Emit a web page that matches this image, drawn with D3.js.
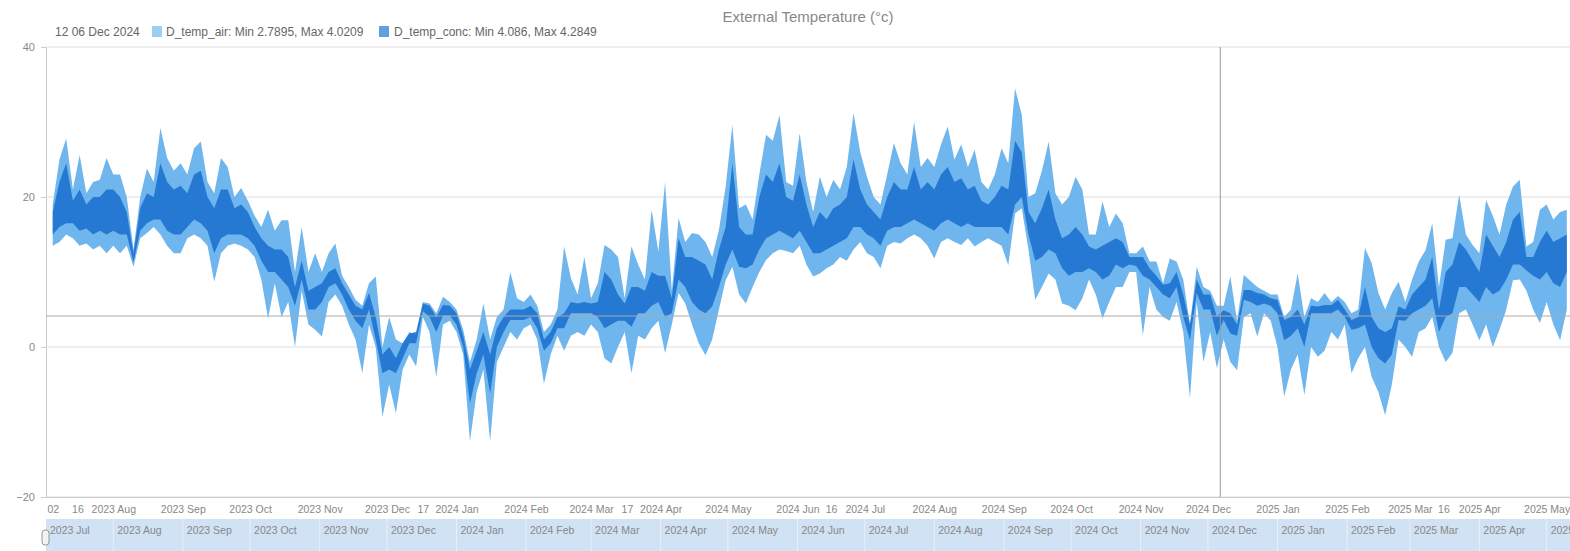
<!DOCTYPE html>
<html><head><meta charset="utf-8">
<script src="https://cdn.jsdelivr.net/npm/d3@7"></script>
<style>
body{margin:0;background:#fff;overflow:hidden}
svg{display:block}
text{font-family:"Liberation Sans",Arial,sans-serif}
</style>
</head><body>
<svg id="chart" width="1570" height="551"></svg>
<script>
// ---- data ----
const sampleStart = "2023-07-05";
const sampleStepDays = 3;

const airLo = [13.5,14,15,14.5,13.5,13.8,13,13.5,12.5,13.5,
12.5,13.5,10.7,14.5,15.2,16,15,13.5,12.5,12.5,
14.5,15,14.5,13.5,8.7,12.5,13.5,13.8,13.5,13,
12,9,3.8,8.5,4,6,0,7.5,3,2.3,
1.4,6,7,5.5,3,1,-3.5,3,0,-9.3,
-5,-8.8,-3,-1,-2.6,4,2,-4,3,3.5,
2,-1,-12.6,-6,-3,-12.6,-2,0,2,1,
2.5,3,1,-4.9,-1,1.5,-0.5,1.5,2,1.5,
3,2,-1.5,-2.2,0,2,-3.5,1.5,1,2.5,
3.5,-0.8,3,7.2,5.8,3,0.5,-1.1,1,5,
8.9,10.7,7,5.8,8,10,11.6,12.5,13,12.8,
12.5,13.5,11,9.4,9.8,10.5,11,12,11.5,13,
14,12.5,12,10.5,13.5,14,13.8,14.5,15,14.5,
13.5,11.8,14,14.5,14,13.6,14.5,13.4,14,14.5,
14,13.5,10.9,17.8,18.5,13,6.3,8,9.8,9,
5.8,5.5,4.9,6.5,9,7,3.8,6,8,8,
10,10,1.6,8,5,4,3.5,6,2,-6.8,
6,-2,2,-2.8,1,-2,-3.1,4,4.5,1.4,
4.5,3.5,0,-6.6,-3,-1,-6.4,0,-1.3,-0.5,
2,1,3,-3.5,-1.5,0,-4,-6,-9.1,-5,
1,0,-1.3,2,2.5,4,0,-2,-0.8,4.5,
5,3,0.9,3,0,2.3,5,8.9,9,7.5,
5,3.2,6,3,0.9,5];

const airHi = [19,25,27.8,21,25.6,20.5,22,22.3,25.2,23,
23,20,13,20,23.8,22,29.2,25.2,23.5,24.5,
23,26.5,27.4,22,20.5,25.2,24,20,21.2,19.5,
17.5,16,18.3,15.5,16.9,16.9,10,16,10,12.5,
10,12.5,13.8,9.5,8,6.3,5.5,8.5,9.4,0,
4,1,0.5,2,1.5,6,5.8,4.5,6.7,6,
5,2.3,-2,1,5.8,1,4,5,10,6.5,
6,7,5.5,2,3,5,13.4,9.2,7,12,
6.5,8.5,13.6,13,12,6.5,13.4,11,9,18.3,
12.7,22,7.5,17.2,14,15.2,15,14,12,15.6,
21.4,29.6,18.5,19,17,23,28.3,27.5,30.9,22,
21.5,28.5,22,18,22.7,20,22.3,21,24,31.2,
26,22.7,20,19,23,27.2,24.5,23,30,24,
25.2,24,27,29.4,25,27,24,26.3,22,21,
23,26.5,24.5,34.5,31,20,20.5,23.5,27.4,20.5,
19,20,22.7,21,15,15,19.4,16,17.8,16.5,
12.5,12.5,13.4,11.4,11.4,8.5,11.8,11.4,9,3,
10.7,8,7.5,5.5,5.5,9.4,3.5,9.6,8.8,8,
7.5,7,7,4,5,9.8,4,6.5,6,7.2,
6,6.8,6,4.5,5,13.2,11.2,7.2,5,7.2,
8.7,6,9,11.4,12.9,16.5,8,14.3,14.5,20.3,
15,13.6,12.5,19.6,17.5,15,19,21.4,22.3,13.4,
14,18.3,19,17,18,18.3];

const concLo = [15,16,16.5,16.5,15.5,15.8,15,15.5,15,15.5,
15,15,11.3,15.5,16.5,17,17,15.5,15,15,
16,17,16.5,15.5,12.5,14.5,15,15,15,14.5,
13.5,11.5,10,10,9,8,5.5,9,5,5,
6,8,8.5,7,5,3.5,2.5,5,1,-3.5,
-3,-3.5,-1.5,0.5,0.5,4.8,4,2,4.2,4.2,
3,0,-7.5,-3.5,-1,-6.2,0,2,3.6,3.6,
3.6,4,2.5,-0.5,0.5,2.5,2.5,4.5,4.5,4.5,
4.5,4,2.5,3,3.5,3.5,2.7,4.5,4.5,5.5,
6,4,4.5,9,8,6,5,4.5,5.4,8,
11,13,10.7,10.5,11,13,14.5,15,15.5,15,
14.5,15.5,14,12.5,12.5,13,13.5,14,14.5,16,
16,15,14.5,13.5,15.5,16,16,16.5,17,16.5,
16,15.5,16.5,17,16.5,16,16.5,16,16,16,
16,16,15,19,20,15,11.5,12,13,12.5,
10.5,9.5,10,10,10.5,10,9,9.5,11,10.5,
11,10.8,9.5,9,8,7,6.5,8,4,0.9,
7.2,5,5,1.5,3.6,1.8,1.5,6.3,6,5.5,
5.8,5.5,4.5,0.9,1.5,2.5,0,4.5,4.5,4.5,
4.5,5,4,2.3,2.5,3,0,-1.5,-2.2,-1,
3.6,3.5,4.5,5,5.5,6.5,2,4,4.5,8,
8,7,6,8,7,7.5,9,11,11,10.2,
9.5,9,10,8.5,8,10];

const concHi = [18,22,24.5,19.5,21,19,20,20,21,21,
20,18,12.5,18.5,20.5,20,24.5,22,21,21.5,
20.5,23,23.5,20,18.5,21,21,18.5,19,18,
16,14.5,13.5,13,13,12,8,11.5,7.5,8,
8.5,10,10.5,8.5,7,5.5,5,7.2,4,-1,
0,-1.5,0.5,1.8,2,5.8,5.5,4,5.6,5.5,
4.5,1.5,-3,-0.5,2,-1,2.5,4,5,5,
5,5.5,4.5,1,2,4,4.5,6,5.8,6,
5.8,6,10,9,7,5.8,8,8,7.5,10,
9.5,9.5,6.5,14.5,12,12,11.5,11,9,13,
16,24.5,16,15,15,20,23,22,24.5,20,
19.5,23,19,16,18,17,18.5,19,20,25,
21,19,18,17,20,22,21,21,24,21,
22,21,23,24,22,22.5,21,21.5,19.5,19,
20,21.5,21,27.5,26,18,16.5,18.5,21,17,
14.5,15,16,15,13.4,13,13.5,14,14.5,14,
12,12,12,10.5,9.5,8.3,8.5,10,7,3,
9,7,7,4,4.9,4.5,3,7.6,7.6,7.2,
7,6.5,6.3,3.6,4,5,3,5.5,5.4,5.6,
5.6,6.3,5,3.6,4,8,4,2.5,2,2.5,
5.4,5,7,8,9,12,5,10,11,14,
13,11.5,10,15,13.5,12,14,17,18,12,
12,14,15.5,14,14.5,15];

const xTickDates = ["2023-07-02","2023-07-16","2023-08-01","2023-09-01","2023-10-01","2023-11-01",
  "2023-12-01","2023-12-17","2024-01-01","2024-02-01","2024-03-01","2024-03-17","2024-04-01",
  "2024-05-01","2024-06-01","2024-06-16","2024-07-01","2024-08-01","2024-09-01","2024-10-01",
  "2024-11-01","2024-12-01","2025-01-01","2025-02-01","2025-03-01","2025-03-16","2025-04-01","2025-05-01"];
const xTickLabels = ["02","16","2023 Aug","2023 Sep","2023 Oct","2023 Nov",
  "2023 Dec","17","2024 Jan","2024 Feb","2024 Mar","17","2024 Apr",
  "2024 May","2024 Jun","16","2024 Jul","2024 Aug","2024 Sep","2024 Oct",
  "2024 Nov","2024 Dec","2025 Jan","2025 Feb","2025 Mar","16","2025 Apr","2025 May"];
const yTicks = [-20, 0, 20, 40];

const titleText = "External Temperature (°c)";
const cursorLabel = "12 06 Dec 2024";
const legendAir = "D_temp_air: Min 2.7895, Max 4.0209";
const legendConc = "D_temp_conc: Min 4.086, Max 4.2849";
const cursorDate = "2024-12-06T12:00";
const cursorValue = 4.13;

const domainStart = "2023-07-02T00:00";
const domainEnd = "2025-05-11T10:00";

// ---- drawing ----
const m = {left: 46, right: 1570, top: 47, bottom: 497};
const parseDay = d3.timeParse("%Y-%m-%d");
const parseT = d3.timeParse("%Y-%m-%dT%H:%M");
const start = parseDay(sampleStart);
const dates = airLo.map((_, i) => d3.timeDay.offset(start, i * sampleStepDays));

const x = d3.scaleTime().domain([parseT(domainStart), parseT(domainEnd)]).range([m.left, m.right]);
const y = d3.scaleLinear().domain([-20, 40]).range([m.bottom, m.top]);

const svg = d3.select("#chart");
svg.append("defs").append("clipPath").attr("id", "plotclip")
  .append("rect").attr("x", m.left).attr("y", m.top).attr("width", m.right - m.left).attr("height", m.bottom - m.top);

// title
svg.append("text").attr("x", (m.left + m.right) / 2).attr("y", 22).attr("text-anchor", "middle")
  .attr("font-size", 15).attr("fill", "#888").text(titleText);

// legend
const lg = svg.append("g").attr("font-size", 12).attr("fill", "#666");
lg.append("text").attr("x", 55).attr("y", 36).text(cursorLabel);
lg.append("rect").attr("x", 152).attr("y", 26).attr("width", 10).attr("height", 11).attr("fill", "#9dcff4");
lg.append("text").attr("x", 166).attr("y", 36).text(legendAir);
lg.append("rect").attr("x", 379).attr("y", 26).attr("width", 10).attr("height", 11).attr("fill", "#5e9fe0");
lg.append("text").attr("x", 394).attr("y", 36).text(legendConc);

// grid + y axis
const yAxis = d3.axisLeft(y).tickValues(yTicks).tickSize(5).tickPadding(6).tickFormat(d3.format("d"));
const gy = svg.append("g").attr("transform", `translate(${m.left},0)`).call(yAxis);
gy.select(".domain").attr("stroke", "#ccc");
gy.selectAll(".tick line").attr("stroke", "#ccc");
gy.selectAll(".tick text").attr("fill", "#888").attr("font-size", 11).attr("font-family", "Liberation Sans, Arial, sans-serif");

svg.append("g").selectAll("line").data(yTicks).join("line")
  .attr("x1", m.left).attr("x2", m.right).attr("y1", d => y(d)).attr("y2", d => y(d))
  .attr("stroke", "#ddd").attr("stroke-width", 1);

// x axis
const xAxis = d3.axisBottom(x).tickValues(xTickDates.map(parseDay)).tickSize(0).tickPadding(9)
  .tickFormat((d, i) => xTickLabels[i]);
const gx = svg.append("g").attr("transform", `translate(0,${m.bottom})`).call(xAxis);
gx.select(".domain").attr("stroke", "#ccc");
gx.selectAll(".tick text").attr("fill", "#888").attr("font-size", 10.5).attr("font-family", "Liberation Sans, Arial, sans-serif");
gx.selectAll(".tick text").filter((d, i) => i === 0).attr("text-anchor", "start").attr("dx", 1);

// series
const plot = svg.append("g").attr("clip-path", "url(#plotclip)");
const band = (lo, hi) => d3.area().x((d, i) => x(dates[i])).y0((d, i) => y(lo[i])).y1((d, i) => y(hi[i]));
plot.append("path").datum(airLo).attr("d", band(airLo, airHi)).attr("fill", "#6fb6ee");
plot.append("path").datum(concLo).attr("d", band(concLo, concHi)).attr("fill", "#1f74d0").attr("fill-opacity", 0.92);

// cursor
plot.append("line").attr("x1", x(parseT(cursorDate))).attr("x2", x(parseT(cursorDate)))
  .attr("y1", m.top).attr("y2", m.bottom).attr("stroke", "#999");
plot.append("line").attr("x1", m.left).attr("x2", m.right).attr("y1", y(cursorValue)).attr("y2", y(cursorValue))
  .attr("stroke", "#aaa");

// scrollbar
const sb = svg.append("g");
sb.append("rect").attr("x", m.left).attr("y", 519).attr("width", m.right - m.left).attr("height", 40).attr("fill", "#d0e2f4");
const months = d3.timeMonth.range(parseDay("2023-07-01"), parseT(domainEnd));
sb.selectAll("line").data(months.filter(d => x(d) > m.left)).join("line")
  .attr("x1", d => x(d)).attr("x2", d => x(d)).attr("y1", 519).attr("y2", 551)
  .attr("stroke", "#e8f0f9").attr("stroke-width", 1);
sb.selectAll("text").data(months).join("text")
  .attr("x", d => Math.max(x(d) + 4, m.left + 4)).attr("y", 534)
  .attr("font-size", 10.5).attr("fill", "#888").text(d3.timeFormat("%Y %b"));
sb.append("rect").attr("x", 42).attr("y", 530).attr("width", 7).attr("height", 15).attr("rx", 3)
  .attr("fill", "#f2f2f2").attr("stroke", "#999");
</script>
</body></html>
